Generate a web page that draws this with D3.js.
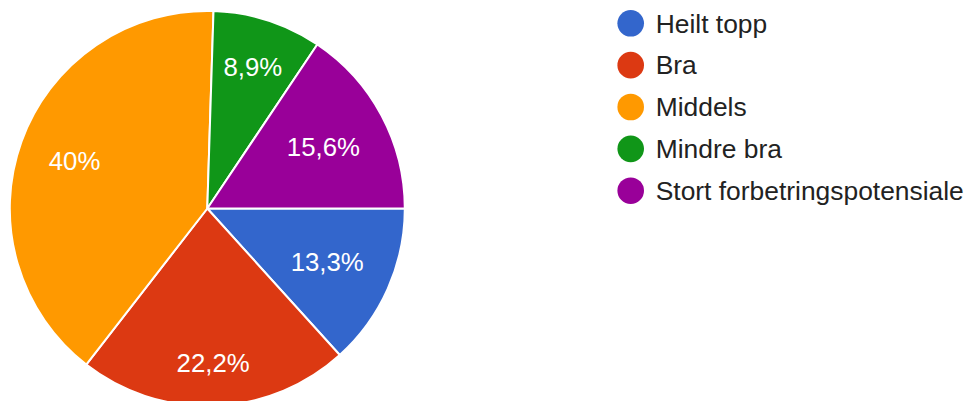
<!DOCTYPE html>
<html><head><meta charset="utf-8">
<script src="https://cdn.jsdelivr.net/npm/d3@7"></script>
<style>body{margin:0;background:#fff}svg{display:block}text{font-family:"Liberation Sans",Arial,sans-serif}</style>
</head><body>
<svg id="c" width="968" height="401"></svg>
<script>
const categories = ["Heilt topp","Bra","Middels","Mindre bra","Stort forbetringspotensiale"];
const values = [13.3, 22.2, 40, 8.9, 15.6];
const labels = ["13,3%","22,2%","40%","8,9%","15,6%"];
const colors = ["#3366cc","#dc3912","#ff9900","#109618","#990099"];

const svg = d3.select("#c");
const cx = 207.3, cy = 208.5, r = 197.5, labelR = 168.5, fs = 25.8;
const g = svg.append("g").attr("transform",`translate(${cx},${cy})`);
const pie = d3.pie().sort(null).value(d=>d).startAngle(Math.PI/2).endAngle(Math.PI/2+2*Math.PI);
const arcs = pie(values);
const arc = d3.arc().innerRadius(0).outerRadius(r);
g.selectAll("path").data(arcs).join("path")
  .attr("d",arc).attr("fill",(d,i)=>colors[i])
  .attr("stroke","#fff").attr("stroke-width",2).attr("stroke-linejoin","round");

const capH = fs*0.716;
g.selectAll("text.lbl").data(arcs).join("text").attr("class","lbl")
  .attr("font-size",fs).attr("fill","#fff").attr("text-anchor","middle")
  .text((d,i)=>labels[i])
  .each(function(d){
    const w = this.getComputedTextLength();
    const a = (d.startAngle+d.endAngle)/2;
    const c = Math.sin(a), s = -Math.cos(a);
    const hw = w/2, hh = capH/2;
    const b = Math.abs(c)*hw + Math.abs(s)*hh;
    const t = -b + Math.sqrt(b*b - (hw*hw+hh*hh - labelR*labelR));
    const x = t*c, y = t*s;
    d3.select(this).attr("x",x).attr("y",y+capH/2);
  });

const leg = svg.append("g").attr("transform","translate(630.7,23.3)");
const row = leg.selectAll("g").data(categories).join("g")
  .attr("transform",(d,i)=>`translate(0,${i*41.85})`);
row.append("circle").attr("r",13.3).attr("fill",(d,i)=>colors[i]);
row.append("text").attr("x",25).attr("y",0).attr("dy","0.35em")
  .attr("font-size",26.4).attr("fill","#222").text(d=>d);
</script>
</body></html>
